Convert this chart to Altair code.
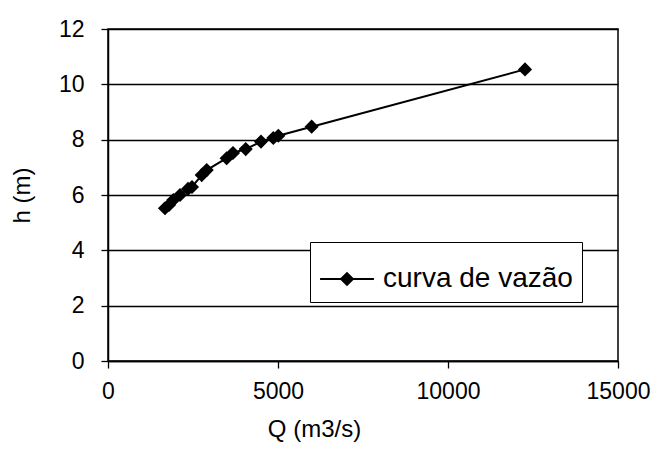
import altair as alt
import pandas as pd

Q = [1676, 1794, 1920, 2118, 2353, 2470, 2756, 2903, 3490, 3676, 4050, 4500, 4862, 5010, 5990, 12265]
h = [5.52, 5.64, 5.82, 6.00, 6.22, 6.29, 6.72, 6.90, 7.33, 7.52, 7.66, 7.93, 8.06, 8.14, 8.47, 10.54]
series = "curva de vazão"
x_ticks = [0, 5000, 10000, 15000]
y_ticks = [0, 2, 4, 6, 8, 10, 12]

df = pd.DataFrame({"Q": Q, "h": h, "s": series})

FONT = "Liberation Sans, Arial"

legend_path = "M-1,0L1,0M-0.22,0L0,-0.22L0.22,0L0,0.22Z"

chart = alt.Chart(df).mark_line(
    strokeWidth=2,
    point=alt.OverlayMarkDef(shape="diamond", filled=True, size=200, color="black", opacity=1),
).encode(
    x=alt.X("Q:Q", title="Q (m3/s)",
            scale=alt.Scale(domain=[0, 15000], nice=False),
            axis=alt.Axis(values=x_ticks, format="d", grid=False, tickSize=7, labelPadding=12,
                          titlePadding=14, titleX=206, labelFlush=False)),
    y=alt.Y("h:Q", title="h (m)",
            scale=alt.Scale(domain=[0, 12], nice=False),
            axis=alt.Axis(values=y_ticks, format="d", grid=True, tickSize=7, labelPadding=17,
                          titlePadding=24)),
    color=alt.Color("s:N", scale=alt.Scale(range=["black"]),
                    legend=alt.Legend(title=None, orient="none", legendX=202, legendY=213,
                                      symbolType=legend_path, symbolSize=2900,
                                      symbolFillColor="black", symbolStrokeColor="black",
                                      symbolStrokeWidth=2,
                                      strokeColor="black", fillColor="white",
                                      padding=9, labelOffset=8, labelLimit=0,
                                      labelFontSize=28, labelFont=FONT,
                                      labelColor="black")),
).properties(
    width=510, height=332,
    background="white",
    autosize=alt.AutoSizeParams(type="none"),
    padding={"left": 100, "top": 21, "right": 35, "bottom": 95},
).configure_view(
    stroke="black", strokeWidth=1.5
).configure_axis(
    labelFont=FONT, titleFont=FONT, labelFontSize=23, titleFontSize=24,
    titleFontWeight="normal", labelColor="black", titleColor="black",
    domainColor="black", tickColor="black", gridColor="black",
    domainWidth=1.5, tickWidth=1.3, gridWidth=1.3, gridOpacity=1,
)

chart.save("out.html", embed_options={"renderer": "svg", "actions": False})
